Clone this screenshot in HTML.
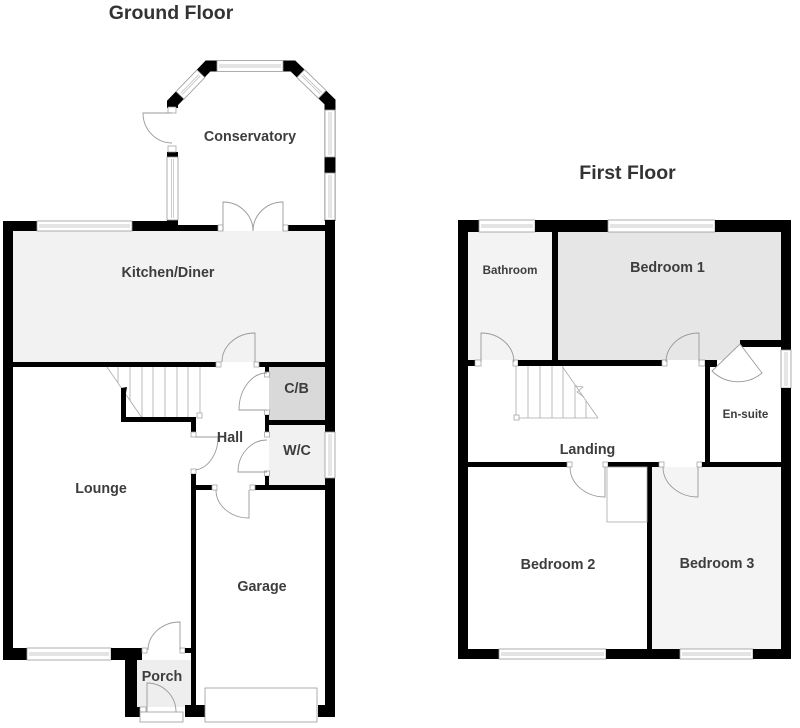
<!DOCTYPE html>
<html>
<head>
<meta charset="utf-8">
<style>
html,body{margin:0;padding:0;background:#fff;}
svg{display:block;}
.k{fill:#000;}
.w{fill:#fff;stroke:#999;stroke-width:.8;}
.wl{stroke:#b8b8b8;stroke-width:.7;fill:none;}
.d{fill:none;stroke:#9a9a9a;stroke-width:.9;}
.sq{fill:#fff;stroke:#999;stroke-width:.7;}
.t{font-family:"Liberation Sans",Arial,sans-serif;font-weight:bold;fill:#3d3d3d;text-anchor:middle;}
.l{font-size:14.3px;}
.s{font-size:11.6px;}
.h{font-size:19.5px;fill:#333;}
</style>
</head>
<body>
<svg width="800" height="728" viewBox="0 0 800 728" xmlns="http://www.w3.org/2000/svg">
<rect width="800" height="728" fill="#fff"/>

<!-- ================= GROUND FLOOR ================= -->
<!-- fills -->
<rect x="13" y="231" width="312" height="131" fill="#f2f2f2"/>
<rect x="269" y="367" width="56" height="53" fill="#d9d9d9"/>
<rect x="269" y="425" width="56" height="60" fill="#f1f1f1"/>
<rect x="137" y="660" width="54" height="47" fill="#eeeeee"/>

<!-- conservatory frame -->
<polyline points="172.5,221 172.5,103 208,66 293,66 330,102 330,221" fill="none" stroke="#000" stroke-width="11" stroke-linejoin="miter"/>
<!-- conservatory door opening -->
<rect x="165" y="108" width="15" height="44" fill="#fff"/>
<rect x="168" y="107" width="8" height="6" class="sq"/>
<rect x="168" y="146" width="8" height="6" class="sq"/>
<path class="d" d="M172,113 L143,113 A29,30 0 0 0 172,143"/>
<!-- conservatory windows -->
<rect x="217" y="60.5" width="66" height="11" class="w"/>
<line x1="219" y1="65" x2="281" y2="65" class="wl"/><line x1="219" y1="67" x2="281" y2="67" class="wl"/>
<g transform="translate(190.5,84.5) rotate(-46)">
<rect x="-15" y="-5.5" width="30" height="11" class="w"/>
<line x1="-13" y1="-1" x2="13" y2="-1" class="wl"/><line x1="-13" y1="1" x2="13" y2="1" class="wl"/>
</g>
<g transform="translate(311.5,84) rotate(44)">
<rect x="-15" y="-5.5" width="30" height="11" class="w"/>
<line x1="-13" y1="-1" x2="13" y2="-1" class="wl"/><line x1="-13" y1="1" x2="13" y2="1" class="wl"/>
</g>
<rect x="167" y="157" width="11" height="63" class="w"/>
<line x1="171.5" y1="159" x2="171.5" y2="218" class="wl"/><line x1="173.5" y1="159" x2="173.5" y2="218" class="wl"/>
<rect x="325" y="110" width="10" height="47" class="w"/>
<line x1="329" y1="112" x2="329" y2="155" class="wl"/><line x1="331" y1="112" x2="331" y2="155" class="wl"/>
<rect x="325" y="173" width="10" height="47" class="w"/>
<line x1="329" y1="175" x2="329" y2="218" class="wl"/><line x1="331" y1="175" x2="331" y2="218" class="wl"/>

<!-- outer walls -->
<rect class="k" x="3" y="221" width="10" height="439"/>
<rect class="k" x="3" y="221" width="34" height="10"/>
<rect class="k" x="132" y="221" width="46" height="10"/>
<rect class="k" x="178" y="225" width="40" height="6"/>
<rect class="k" x="288" y="225" width="37" height="6"/>
<rect class="k" x="325" y="220" width="10" height="212"/>
<rect class="k" x="325" y="478" width="10" height="239"/>
<!-- kitchen top window -->
<rect x="37" y="221" width="95" height="10" class="w"/>
<line x1="39" y1="225" x2="130" y2="225" class="wl"/><line x1="39" y1="227" x2="130" y2="227" class="wl"/>
<!-- W/C window -->
<rect x="325" y="432" width="10" height="46" class="w"/>
<line x1="329" y1="434" x2="329" y2="476" class="wl"/><line x1="331" y1="434" x2="331" y2="476" class="wl"/>
<!-- french doors -->
<rect x="218" y="225" width="5" height="6" class="sq"/>
<rect x="283" y="225" width="5" height="6" class="sq"/>
<path class="d" d="M223,231 L223,202 A30,29 0 0 1 253,231"/>
<path class="d" d="M283,231 L283,202 A30,29 0 0 0 253,231"/>

<!-- kitchen bottom wall -->
<rect class="k" x="13" y="362" width="204" height="5"/>
<rect x="216" y="362" width="5" height="5" class="sq"/>
<rect class="k" x="258" y="362" width="67" height="5"/>
<rect x="254" y="362" width="5" height="5" class="sq"/>
<path class="d" d="M255,362 L255,333 A33,29 0 0 0 222,362"/>

<!-- hall / C/B / W/C walls -->
<rect class="k" x="265" y="367" width="4" height="6"/>
<rect x="264.5" y="372" width="5" height="5" class="sq"/>
<rect x="264.5" y="410" width="5" height="5" class="sq"/>
<rect class="k" x="265" y="415" width="4" height="17"/>
<rect x="264.5" y="432" width="5" height="5" class="sq"/>
<rect x="264.5" y="471" width="5" height="5" class="sq"/>
<rect class="k" x="265" y="476" width="4" height="10"/>
<rect class="k" x="269" y="420" width="56" height="5"/>
<rect class="k" x="255" y="485" width="70" height="5"/>
<path class="d" d="M267,410 L239,410 A28,37 0 0 1 267,373"/>
<path class="d" d="M267,472 L238,472 A29,32 0 0 1 267,440"/>

<!-- hall bottom / garage door -->
<rect class="k" x="193" y="485" width="19" height="5"/>
<rect x="212" y="485" width="5" height="5" class="sq"/>
<rect x="250" y="485" width="5" height="5" class="sq"/>
<path class="d" d="M249,490 L249,518 A33,28 0 0 1 216,490"/>

<!-- hall/lounge/garage vertical wall -->
<rect class="k" x="191" y="417" width="5" height="15"/>
<rect x="191" y="432" width="5" height="5" class="sq"/>
<line x1="196" y1="437" x2="218" y2="437" stroke="#999" stroke-width=".9"/>
<path class="d" d="M218,437 A25,33 0 0 1 193,470"/>
<rect x="191" y="469" width="5" height="5" class="sq"/>
<rect class="k" x="191" y="474" width="5" height="231"/>

<!-- stairs ground -->
<g stroke="#aaa" stroke-width=".8" fill="none">
<line x1="107" y1="367" x2="142" y2="418"/>
<line x1="118" y1="367" x2="118" y2="383"/>
<line x1="130" y1="367" x2="130" y2="401"/>
<line x1="142" y1="367" x2="142" y2="418"/>
<line x1="153" y1="367" x2="153" y2="418"/>
<line x1="165" y1="367" x2="165" y2="418"/>
<line x1="177" y1="367" x2="177" y2="418"/>
<line x1="188" y1="367" x2="188" y2="418"/>
<line x1="200" y1="367" x2="200" y2="417"/>
</g>
<rect x="197" y="413" width="5" height="5" class="sq"/>
<rect class="k" x="121" y="393" width="5" height="29"/>
<polygon class="k" points="121,388 127,387 126,393 121,395"/>
<rect class="k" x="121" y="417" width="75" height="5"/>

<!-- lounge bottom wall / porch -->
<rect class="k" x="3" y="648" width="24" height="12"/>
<rect x="27" y="648" width="84" height="12" class="w"/>
<line x1="29" y1="653" x2="109" y2="653" class="wl"/><line x1="29" y1="655" x2="109" y2="655" class="wl"/>
<rect class="k" x="111" y="648" width="31" height="12"/>
<rect class="k" x="125" y="660" width="12" height="57"/>
<rect class="k" x="135" y="707" width="5" height="10"/>
<rect x="142" y="648" width="5" height="5" class="sq"/>
<rect x="180" y="648" width="5" height="5" class="sq"/>
<rect class="k" x="185" y="648" width="7" height="5"/>
<path class="d" d="M180,650 L180,622 A32,28 0 0 0 148,650"/>
<rect class="k" x="185" y="705" width="20" height="12"/>
<rect x="140" y="707" width="6" height="5" class="sq"/>
<rect x="140" y="712" width="43" height="10" class="w"/>
<path class="d" d="M147,712 L147,683 A29,29 0 0 1 176,712"/>
<!-- garage front -->
<rect x="205" y="688" width="112" height="34" class="w"/>
<rect class="k" x="318" y="705" width="17" height="12"/>

<!-- ground floor labels -->
<text class="t h" x="171" y="19">Ground Floor</text>
<text class="t l" x="250" y="141">Conservatory</text>
<text class="t l" x="168" y="277">Kitchen/Diner</text>
<text class="t l" x="296.5" y="393">C/B</text>
<text class="t l" x="230" y="442">Hall</text>
<text class="t l" x="297" y="455">W/C</text>
<text class="t l" x="101" y="493">Lounge</text>
<text class="t l" x="262" y="591">Garage</text>
<text class="t l" x="162" y="681">Porch</text>

<!-- ================= FIRST FLOOR ================= -->
<!-- fills -->
<rect x="468" y="232" width="84" height="128" fill="#f3f3f3"/>
<rect x="558" y="232" width="223" height="108" fill="#e6e6e6"/>
<rect x="558" y="340" width="182" height="20" fill="#e6e6e6"/>
<rect x="652" y="467" width="129" height="182" fill="#f4f4f4"/>

<!-- outer walls -->
<rect class="k" x="458" y="220" width="10" height="439"/>
<rect class="k" x="458" y="220" width="21" height="12"/>
<rect x="479" y="220" width="56" height="12" class="w"/>
<line x1="481" y1="225" x2="533" y2="225" class="wl"/><line x1="481" y1="227" x2="533" y2="227" class="wl"/>
<rect class="k" x="535" y="220" width="73" height="12"/>
<rect x="608" y="220" width="107" height="12" class="w"/>
<line x1="610" y1="225" x2="713" y2="225" class="wl"/><line x1="610" y1="227" x2="713" y2="227" class="wl"/>
<rect class="k" x="715" y="220" width="76" height="12"/>
<rect class="k" x="781" y="220" width="10" height="130"/>
<rect x="781" y="350" width="10" height="38" class="w"/>
<line x1="785" y1="352" x2="785" y2="386" class="wl"/><line x1="787" y1="352" x2="787" y2="386" class="wl"/>
<rect class="k" x="781" y="388" width="10" height="271"/>
<rect class="k" x="458" y="649" width="41" height="10"/>
<rect x="499" y="649" width="107" height="10" class="w"/>
<line x1="501" y1="653" x2="604" y2="653" class="wl"/><line x1="501" y1="655" x2="604" y2="655" class="wl"/>
<rect class="k" x="606" y="649" width="74" height="10"/>
<rect x="680" y="649" width="73" height="10" class="w"/>
<line x1="682" y1="653" x2="751" y2="653" class="wl"/><line x1="682" y1="655" x2="751" y2="655" class="wl"/>
<rect class="k" x="753" y="649" width="38" height="10"/>

<!-- internal walls -->
<rect class="k" x="552" y="232" width="6" height="134"/>
<rect class="k" x="468" y="360" width="7" height="6"/>
<rect x="475" y="360" width="6" height="6" class="sq"/>
<rect x="513" y="360" width="5" height="6" class="sq"/>
<rect class="k" x="518" y="360" width="144" height="6"/>
<rect x="662" y="360" width="5" height="6" class="sq"/>
<rect x="699" y="360" width="6" height="6" class="sq"/>
<rect class="k" x="705" y="360" width="12" height="7"/>
<rect class="k" x="740" y="340" width="41" height="7"/>
<rect class="k" x="705" y="367" width="5" height="100"/>
<rect class="k" x="468" y="462" width="100" height="5"/>
<rect x="567" y="462" width="5" height="5" class="sq"/>
<rect x="603" y="462" width="5" height="5" class="sq"/>
<rect class="k" x="608" y="462" width="51" height="5"/>
<rect x="659" y="462" width="5" height="5" class="sq"/>
<rect x="697" y="462" width="5" height="5" class="sq"/>
<rect class="k" x="702" y="462" width="79" height="5"/>
<rect class="k" x="647" y="467" width="5" height="182"/>

<!-- doors first floor -->
<path class="d" d="M481,362 L481,333 A33,29 0 0 1 514,362"/>
<path class="d" d="M699,362 L699,333 A33,29 0 0 0 666,362"/>
<path d="M740,344 L762,373 A37,37 0 0 1 712,371 Z" fill="#fff" stroke="#999" stroke-width=".9"/>
<path class="d" d="M605,467 L605,497 A35,30 0 0 1 570,467"/>
<path class="d" d="M698,467 L698,497 A35,30 0 0 1 663,467"/>
<rect x="607" y="467" width="40" height="55" fill="none" stroke="#aaa" stroke-width=".8"/>

<!-- stairs first -->
<g stroke="#aaa" stroke-width=".8" fill="none">
<line x1="516" y1="366" x2="516" y2="418"/>
<line x1="528" y1="366" x2="528" y2="418"/>
<line x1="540" y1="366" x2="540" y2="418"/>
<line x1="552" y1="366" x2="552" y2="418"/>
<line x1="563" y1="367" x2="563" y2="418"/>
<line x1="575" y1="385" x2="575" y2="418"/>
<line x1="586" y1="401" x2="586" y2="418"/>
<line x1="516" y1="418" x2="598" y2="418"/>
<line x1="562" y1="366" x2="598" y2="418"/>
<polyline points="576,386 583,387 577,392 584,397"/>
</g>
<rect x="514" y="415" width="5" height="5" class="sq"/>

<!-- first floor labels -->
<text class="t h" x="627.5" y="179">First Floor</text>
<text class="t s" x="510" y="274">Bathroom</text>
<text class="t l" x="667.5" y="272">Bedroom 1</text>
<text class="t s" x="745.5" y="418">En-suite</text>
<text class="t l" x="587.5" y="454">Landing</text>
<text class="t l" x="558" y="569">Bedroom 2</text>
<text class="t l" x="717" y="568">Bedroom 3</text>
</svg>
</body>
</html>
